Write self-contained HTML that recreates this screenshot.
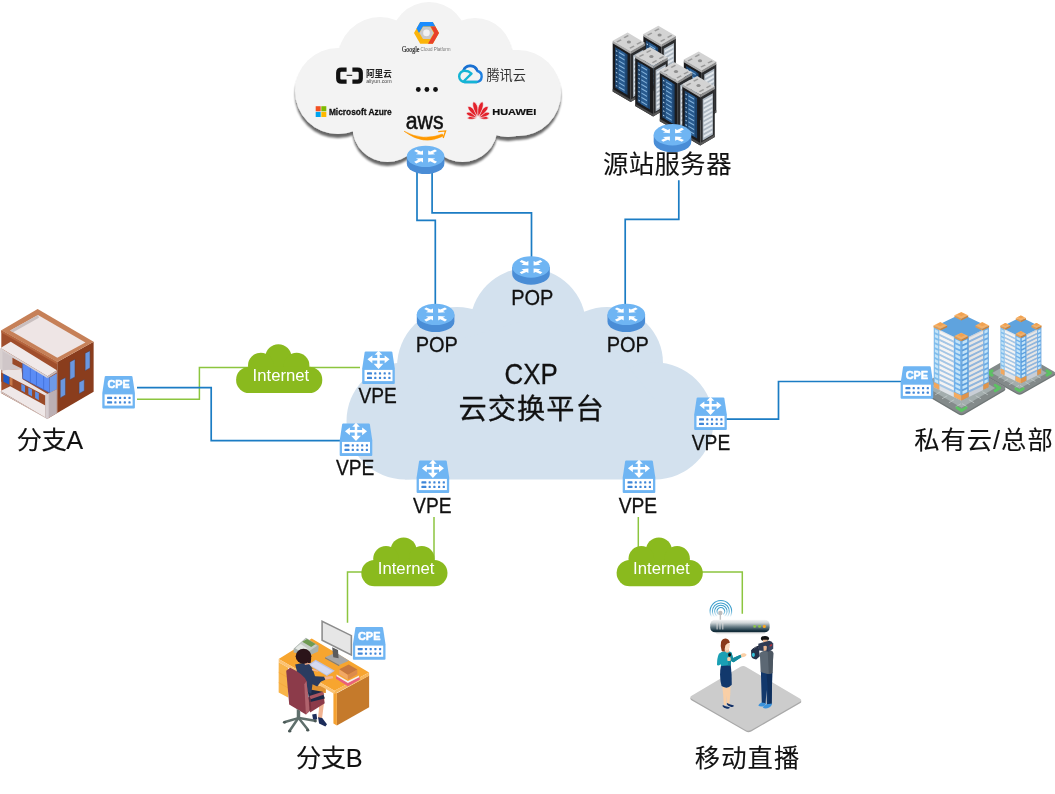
<!DOCTYPE html>
<html lang="zh-CN">
<head>
<meta charset="utf-8">
<title>CXP 云交换平台</title>
<style>
html,body{margin:0;padding:0;background:#fff;}
body{width:1055px;height:794px;overflow:hidden;position:relative;font-family:"Liberation Sans","Noto Sans CJK SC",sans-serif;}
svg{position:absolute;left:0;top:0;display:block;will-change:transform;}
text{font-family:"Liberation Sans","Noto Sans CJK SC",sans-serif;fill:#111;}
.lb{font-size:25.3px;font-weight:400;}
.sm{font-size:22.3px;}
.t text{stroke:#111;stroke-width:0.3px;}
.t text.lb{stroke:#111;stroke-width:0.1px;}
.bl{fill:none;stroke:#1b7cc4;stroke-width:1.7;}
.gl{fill:none;stroke:#8cc53f;stroke-width:1.5;}
</style>
</head>
<body>
<svg width="1055" height="794" viewBox="0 0 1055 794">
<defs>
  <filter id="sh" x="-10%" y="-10%" width="120%" height="130%">
    <feGaussianBlur in="SourceAlpha" stdDeviation="1.1"/>
    <feOffset dx="0.4" dy="3.8" result="o"/>
    <feComponentTransfer><feFuncA type="linear" slope="0.6"/></feComponentTransfer>
    <feMerge><feMergeNode/><feMergeNode in="SourceGraphic"/></feMerge>
  </filter>
  <g id="router">
    <path d="M-18.8,0 v7 a18.8,10.7 0 0 0 37.6,0 v-7 z" fill="#4a8dd6"/>
    <ellipse cx="0" cy="0" rx="18.8" ry="10.7" fill="#6fb5f3"/>
    <g fill="#fff">
      <path id="ra" d="M-2.6,-1.6 L-2.6,-6 L-4.6,-4.9 L-9.4,-7 L-11.4,-5.3 L-7.4,-3.4 L-9.6,-2.2 Z"/>
      <use href="#ra" transform="scale(-1,1)"/>
      <use href="#ra" transform="scale(1,-1)"/>
      <use href="#ra" transform="scale(-1,-1)"/>
    </g>
  </g>
  <g id="box">
    <path d="M2.7,1 Q2.9,0.4 3.7,0.4 H29.3 Q30.1,0.4 30.3,1 L32.8,17.5 V32 Q32.8,33 31.8,33 H1.2 Q0.2,33 0.2,32 V17.5 Z" fill="#6fb5f3"/>
    <rect x="2.5" y="18.9" width="28" height="11.2" fill="#fff"/>
    <g fill="#3f86d8">
      <rect x="5" y="21.3" width="5" height="2.2" rx="0.6"/><rect x="5" y="25.8" width="5" height="2.2" rx="0.6"/>
      <rect x="12.2" y="21.3" width="2.2" height="2.2" rx="0.6"/><rect x="12.2" y="25.8" width="2.2" height="2.2" rx="0.6"/>
      <rect x="16.9" y="21.3" width="2.2" height="2.2" rx="0.6"/><rect x="16.9" y="25.8" width="2.2" height="2.2" rx="0.6"/>
      <rect x="21.6" y="21.3" width="2.2" height="2.2" rx="0.6"/><rect x="21.6" y="25.8" width="2.2" height="2.2" rx="0.6"/>
      <rect x="26.3" y="21.3" width="2.2" height="2.2" rx="0.6"/><rect x="26.3" y="25.8" width="2.2" height="2.2" rx="0.6"/>
    </g>
  </g>
  <g id="vpe">
    <use href="#box"/>
    <path fill="#fff" transform="translate(16.5,9.2) scale(1.06) translate(-16.5,-9.2)" d="M16.5,0.2 l3.6,3.8 h-2.4 v3.2 h4.6 v-2.5 l4.6,3.7 l-4.6,3.7 v-2.5 h-4.6 v3 h3.4 l-4.6,5 l-4.6,-5 h3.4 v-3 h-4.6 v2.5 l-4.6,-3.7 l4.6,-3.7 v2.5 h4.6 v-3.2 h-2.4 z"/>
  </g>
  <g id="cpe">
    <use href="#box"/>
  </g>
  <g id="inet">
    <circle cx="42.3" cy="13.1" r="13.1" fill="#8aba1e"/>
    <circle cx="24.7" cy="21.3" r="12.8" fill="#8aba1e"/>
    <circle cx="60.5" cy="21.3" r="12.8" fill="#8aba1e"/>
    <rect x="0" y="22.5" width="86.2" height="26.4" rx="13.2" fill="#8aba1e"/>
  </g>
</defs>

<!-- CXP cloud -->
<g id="cxpcloud" fill="#d3e1ee">
  <circle cx="405" cy="421" r="58.5"/>
  <circle cx="457" cy="367" r="60"/>
  <circle cx="528" cy="326" r="58"/>
  <circle cx="607" cy="363" r="56"/>
  <circle cx="655" cy="421" r="58.5"/>
  <rect x="405" y="380" width="250" height="99.5"/>
  <polygon points="420,400 457,340 527,320 607,340 655,400"/>
</g>


<!-- top cloud -->
<g filter="url(#sh)">
<g fill="#f3f3f3">
  <circle cx="338" cy="91" r="43"/>
  <circle cx="518" cy="93" r="43"/>
  <circle cx="380" cy="59" r="42"/>
  <circle cx="475" cy="55" r="37"/>
  <circle cx="429" cy="40" r="38"/>
  <circle cx="387.5" cy="127" r="35"/>
  <circle cx="462.5" cy="127" r="35"/>
  <circle cx="508" cy="100" r="37"/>
  <rect x="338" y="50" width="180" height="80"/>
  <rect x="387.5" y="115" width="74.5" height="38"/>
</g>
</g>
<!-- logos -->
<g id="gcp">
  <polygon points="420.2,21.9 432.8,21.9 439,32.9 432.8,43.8 420.2,43.8 414,32.9" fill="#fbb40a"/>
  <polygon points="420.2,21.9 432.8,21.9 435.4,26.5 423,26.5 419,33 416.5,28.4" fill="#1a8cff"/>
  <polygon points="432.8,21.9 439,32.9 432.8,43.8 428,43.8 431,38.5 434.2,32.9 430.6,26.5 435.4,26.5" fill="#e8402a"/>
  <polygon points="423,26.8 430.2,26.8 433.8,32.9 430.2,39.1 423,39.1 419.4,32.9" fill="#c9c9c9"/>
  <circle cx="426.5" cy="32.9" r="3.3" fill="#f1f1f1"/>
  <text x="402" y="51.6" style="font-family:'Liberation Serif',serif;font-size:7.2px;fill:#222;stroke:#222;stroke-width:0.2px" textLength="17.5" lengthAdjust="spacingAndGlyphs">Google</text>
  <text x="420.6" y="51.4" style="font-size:5.6px;fill:#777" textLength="30" lengthAdjust="spacingAndGlyphs">Cloud Platform</text>
</g>
<g id="aliyun">
  <path d="M346.6,69.6 H341.4 Q338.2,69.6 338.2,72.8 V78.4 Q338.2,81.6 341.4,81.6 H346.6 M352.4,69.6 H357.6 Q360.8,69.6 360.8,72.8 V78.4 Q360.8,81.6 357.6,81.6 H352.4" fill="none" stroke="#111" stroke-width="4.2" stroke-linejoin="round"/>
  <rect x="346.6" y="74.8" width="5.6" height="1" fill="#111"/>
  <text x="366" y="77.2" style="font-size:8.7px;font-weight:bold;fill:#222" textLength="25.8" lengthAdjust="spacingAndGlyphs">阿里云</text>
  <text x="366.2" y="82.9" style="font-size:5.6px;fill:#444" textLength="25.6" lengthAdjust="spacingAndGlyphs">aliyun.com</text>
</g>
<g id="tencent">
  <path d="M464.5,82 H476.5 A5.6,5.6 0 0 0 477.5,71 A7.4,7.4 0 0 0 463.4,70.6" fill="none" stroke="#1d7fe0" stroke-width="2.4" stroke-linecap="round"/>
  <path d="M463.4,70.6 A7.4,7.4 0 0 1 476.8,70" fill="none" stroke="#1a6fd0" stroke-width="2.4" stroke-linecap="round"/>
  <path d="M476.5,82 H464.8 A5.6,5.6 0 0 1 464.8,70.8 Q468.5,70.8 471.5,73.6 L464.5,80.5" fill="none" stroke="#14b4d4" stroke-width="2.4" stroke-linecap="round" stroke-linejoin="round"/>
  <text x="486.4" y="80" style="font-size:13.2px;fill:#333">腾讯云</text>
</g>
<g id="dots" fill="#111"><circle cx="418.3" cy="89.5" r="2.4"/><circle cx="426.9" cy="89.5" r="2.4"/><circle cx="435.5" cy="89.5" r="2.4"/></g>
<g id="azure">
  <rect x="315.7" y="106.2" width="5" height="5.1" fill="#f25022"/>
  <rect x="321.3" y="106.2" width="5" height="5.1" fill="#7fba00"/>
  <rect x="315.7" y="111.9" width="5" height="5.1" fill="#00a4ef"/>
  <rect x="321.3" y="111.9" width="5" height="5.1" fill="#ffb900"/>
  <text x="328.9" y="115" style="font-size:9.4px;font-weight:bold;fill:#111;stroke:#111;stroke-width:0.3px" textLength="62.8" lengthAdjust="spacingAndGlyphs">Microsoft Azure</text>
</g>
<g id="aws">
  <text x="405.8" y="128.5" style="font-size:23px;fill:#111;stroke:#111;stroke-width:0.5px" textLength="37.8" lengthAdjust="spacingAndGlyphs">aws</text>
  <path d="M404,131.2 Q423.5,141.8 442.4,134 L443.4,136.1 Q423.5,146.4 404,131.2 Z" fill="#ff9900" stroke="#ff9900" stroke-width="0.5" stroke-linejoin="round"/>
  <polyline points="438.2,131.6 445.6,130.9 443.2,138" fill="none" stroke="#ff9900" stroke-width="1.3" stroke-linejoin="miter"/>
</g>
<g id="huawei">
<g fill="#e3212b" stroke="#f3f3f3" stroke-width="0.55" transform="translate(478,118.2)">
<path d="M0,-1.5 C-1.47,-4.24 -2.42,-8.48 -0.84,-10.60 C2.10,-9.54 1.68,-4.24 0,-1.5 Z" transform="rotate(-86)"/>
<path d="M0,-1.5 C-1.47,-4.24 -2.42,-8.48 -0.84,-10.60 C2.10,-9.54 1.68,-4.24 0,-1.5 Z" transform="scale(-1,1) rotate(-86)"/>
<path d="M0,-1.5 C-1.89,-5.12 -3.10,-10.24 -1.08,-12.80 C2.70,-11.52 2.16,-5.12 0,-1.5 Z" transform="rotate(-62)"/>
<path d="M0,-1.5 C-1.89,-5.12 -3.10,-10.24 -1.08,-12.80 C2.70,-11.52 2.16,-5.12 0,-1.5 Z" transform="scale(-1,1) rotate(-62)"/>
<path d="M0,-1.5 C-2.10,-6.16 -3.45,-12.32 -1.20,-15.40 C3.00,-13.86 2.40,-6.16 0,-1.5 Z" transform="rotate(-37)"/>
<path d="M0,-1.5 C-2.10,-6.16 -3.45,-12.32 -1.20,-15.40 C3.00,-13.86 2.40,-6.16 0,-1.5 Z" transform="scale(-1,1) rotate(-37)"/>
<path d="M0,-1.5 C-2.24,-6.80 -3.68,-13.60 -1.28,-17.00 C3.20,-15.30 2.56,-6.80 0,-1.5 Z" transform="rotate(-12)"/>
<path d="M0,-1.5 C-2.24,-6.80 -3.68,-13.60 -1.28,-17.00 C3.20,-15.30 2.56,-6.80 0,-1.5 Z" transform="scale(-1,1) rotate(-12)"/>
</g>
<text x="492.2" y="115" style="font-size:9.6px;font-weight:bold;fill:#111;stroke:#111;stroke-width:0.2px" textLength="44" lengthAdjust="spacingAndGlyphs">HUAWEI</text>
</g>

<!-- bldA:start -->
<g id="bldA">
<polygon points="1.31,330.28 57.29,361.88 57.29,412.95 47.47,418.68 1.31,393.3" fill="#a04e2c"/>
<polygon points="57.29,361.88 93.63,341.74 93.63,391.67 57.29,412.95" fill="#8a3d1d"/>
<polygon points="37.65,309 93.63,341.74 57.29,361.88 1.31,330.28" fill="#c68058"/>
<polygon points="1.31,330.28 57.29,361.88 57.29,364.17 1.31,332.57" fill="#b5653e"/>
<polygon points="37.98,315.06 85.45,342.56 57.29,357.78 10.15,330.61" fill="#eee5e5"/>
<polygon points="37.98,315.06 10.15,330.61 13.1,332.25 38.96,317.68" fill="#c9bfbf"/>
<polygon points="85.12,353.2 90.03,350.74 90.03,367.93 85.12,370.71" fill="#6a97e0" stroke="#5a3a3a" stroke-width="0.5"/>
<polygon points="69.9,361.88 74.97,359.26 74.97,376.93 69.9,379.72" fill="#6a97e0" stroke="#5a3a3a" stroke-width="0.5"/>
<polygon points="79.06,382.17 84.3,379.55 84.3,390.85 79.06,393.63" fill="#6a97e0" stroke="#5a3a3a" stroke-width="0.5"/>
<polygon points="60.24,380.21 65.48,377.59 65.48,394.94 60.24,397.89" fill="#6a97e0" stroke="#5a3a3a" stroke-width="0.5"/>
<polygon points="0,348.59 22.65,362.18 22.65,368.98 2.27,370.57 0,368.98" fill="#cfc6c8"/>
<polygon points="1.13,372.38 45.31,396.73 45.31,405.23 1.13,381.44" fill="#9a4a28"/>
<polygon points="9.63,376.91 12.46,378.61 12.46,385.97 9.63,384.5" fill="#c87848"/>
<polygon points="3.4,373.51 9.29,376.68 9.29,384.84 3.4,381.67" fill="#1e5ac8"/>
<polygon points="21.29,383.71 25.03,385.74 25.03,392.54 21.29,390.5" fill="#5e8fe6"/>
<polygon points="28.32,387.57 32.06,389.61 32.06,396.4 28.32,394.36" fill="#5e8fe6"/>
<polygon points="35.11,391.31 38.85,393.34 38.85,400.14 35.11,398.1" fill="#5e8fe6"/>
<polygon points="12.46,357.65 22.65,363.32 22.65,368.98 12.46,363.88" fill="#9a4a28"/>
<polygon points="2.27,370.34 21.52,368.98 22.65,379.17 47.57,393.9 47.57,396.73 2.27,372.94" fill="#ebe3e3"/>
<polygon points="22.65,363.32 49.84,377.48 49.84,392.99 22.65,378.61" fill="#5b8cf5" stroke="#3a55a0" stroke-width="0.6"/>
<polyline points="30.36,367.32 30.36,382.5" fill="none" stroke="#3f6fd8" stroke-width="0.8"/>
<polyline points="36.47,370.5 36.47,385.68" fill="none" stroke="#3f6fd8" stroke-width="0.8"/>
<polyline points="43.61,374.21 43.61,389.39" fill="none" stroke="#3f6fd8" stroke-width="0.8"/>
<polygon points="49.84,377.48 56.86,373.28 56.86,389.14 49.84,392.99" fill="#6f9ae8"/>
<polygon points="0.57,348.03 10.76,341.8 56.86,370.34 47.57,376.34" fill="#f0e9e9"/>
<polygon points="0.57,348.03 47.57,376.34 47.57,378.27 0.57,349.95" fill="#d8d0d0"/>
<polygon points="47.57,376.34 56.86,370.34 56.86,372.38 47.57,378.27" fill="#c4babc"/>
<polygon points="0,348.37 2.49,349.84 2.49,370.34 0,368.98" fill="#d9d1d1"/>
<polygon points="0.57,391.07 10.19,386.2 45.31,405.45 45.31,417.46" fill="#efe8e8"/>
<polygon points="0.57,391.07 45.31,417.46 47.01,419.05 0.57,392.54" fill="#cfc6c6"/>
<polygon points="45.31,395.03 56.86,389.14 56.86,413.16 47.01,419.05 45.31,417.46" fill="#bcb0b4"/>
<polygon points="45.31,395.03 48.71,393.33 48.71,418.03 47.01,419.05 45.31,417.46" fill="#d6cdd0"/>
</g>
<!-- bldA:end -->
<!-- racks:start -->
<defs><g id="rack">
<polygon points="0,10 18,20.8 18,69.4 0,59" fill="#1b1b1d"/>
<polygon points="18,20.8 32.5,12.6 32.5,61 18,69.4" fill="#2b2c2e"/>
<polygon points="0,56.6 18,67 18,69.4 0,59" fill="#4a4a4a"/>
<polygon points="18,67 32.5,58.6 32.5,61 18,69.4" fill="#5a5a5a"/>
<polygon points="2.4,14.6 14.8,22 14.8,62.4 2.4,55" fill="#1d446e"/>
<polygon points="5.6,16.5 12.6,20.7 12.6,61 5.6,56.8" fill="#285a8e"/>
<polygon points="6.2,19.2 11.8,22.5 11.8,23.7 6.2,20.4" fill="#86b4dc"/>
<polygon points="3.2,17.6 4.6,18.4 4.6,19.5 3.2,18.7" fill="#b8d2e8"/>
<polygon points="6.2,23.55 11.8,26.85 11.8,28.05 6.2,24.75" fill="#86b4dc"/>
<polygon points="3.2,21.95 4.6,22.75 4.6,23.85 3.2,23.05" fill="#b8d2e8"/>
<polygon points="6.2,27.9 11.8,31.2 11.8,32.4 6.2,29.1" fill="#86b4dc"/>
<polygon points="3.2,26.3 4.6,27.1 4.6,28.2 3.2,27.4" fill="#b8d2e8"/>
<polygon points="6.2,32.25 11.8,35.55 11.8,36.75 6.2,33.45" fill="#86b4dc"/>
<polygon points="3.2,30.65 4.6,31.45 4.6,32.55 3.2,31.75" fill="#b8d2e8"/>
<polygon points="6.2,36.6 11.8,39.9 11.8,41.1 6.2,37.8" fill="#86b4dc"/>
<polygon points="3.2,35 4.6,35.8 4.6,36.9 3.2,36.1" fill="#b8d2e8"/>
<polygon points="6.2,40.95 11.8,44.25 11.8,45.45 6.2,42.15" fill="#86b4dc"/>
<polygon points="3.2,39.35 4.6,40.15 4.6,41.25 3.2,40.45" fill="#b8d2e8"/>
<polygon points="6.2,45.3 11.8,48.6 11.8,49.8 6.2,46.5" fill="#86b4dc"/>
<polygon points="3.2,43.7 4.6,44.5 4.6,45.6 3.2,44.8" fill="#b8d2e8"/>
<polygon points="6.2,49.65 11.8,52.95 11.8,54.15 6.2,50.85" fill="#86b4dc"/>
<polygon points="3.2,48.05 4.6,48.85 4.6,49.95 3.2,49.15" fill="#b8d2e8"/>
<polygon points="6.2,54 11.8,57.3 11.8,58.5 6.2,55.2" fill="#86b4dc"/>
<polygon points="3.2,52.4 4.6,53.2 4.6,54.3 3.2,53.5" fill="#b8d2e8"/>
<polygon points="20.4,23 30.6,17.2 30.6,58.4 20.4,64.4" fill="#aeb8c2"/>
<polygon points="21.4,24.6 30,19.7 30,22 21.4,26.9" fill="#e2e7ec"/>
<polygon points="21.4,28.95 30,24.05 30,26.35 21.4,31.25" fill="#e2e7ec"/>
<polygon points="21.4,33.3 30,28.4 30,30.7 21.4,35.6" fill="#e2e7ec"/>
<polygon points="21.4,37.65 30,32.75 30,35.05 21.4,39.95" fill="#e2e7ec"/>
<polygon points="21.4,42 30,37.1 30,39.4 21.4,44.3" fill="#e2e7ec"/>
<polygon points="21.4,46.35 30,41.45 30,43.75 21.4,48.65" fill="#e2e7ec"/>
<polygon points="21.4,50.7 30,45.8 30,48.1 21.4,53" fill="#e2e7ec"/>
<polygon points="21.4,55.05 30,50.15 30,52.45 21.4,57.35" fill="#e2e7ec"/>
<polygon points="21.4,59.4 30,54.5 30,56.8 21.4,61.7" fill="#e2e7ec"/>
<polygon points="0,8.2 14.9,0 32.5,10.4 18,18.8" fill="#d3d3d3"/>
<polygon points="0,8.2 18,18.8 18,21.4 0,10.8" fill="#a9a9a9"/>
<polygon points="18,18.8 32.5,10.4 32.5,13 18,21.4" fill="#8f8f8f"/>
<ellipse cx="16.2" cy="9.4" rx="2.1" ry="1.5" fill="#8e8e8e"/>
<polygon points="3.6,9 7.8,6.8 9,7.8 4.8,10" fill="#9a9a9a"/>
<polygon points="10.8,4.8 15,2.6 16.2,3.6 12,5.8" fill="#9a9a9a"/>
<polygon points="16.6,15.2 20.8,13 22,14 17.8,16.2" fill="#9a9a9a"/>
<polygon points="23.6,11.2 27.8,9 29,10 24.8,12.2" fill="#9a9a9a"/>
</g></defs>
<g id="racks">
<use href="#rack" x="643.4" y="25.7"/>
<use href="#rack" x="612.7" y="32.5"/>
<use href="#rack" x="683.8" y="51.4"/>
<use href="#rack" x="635.2" y="47.1"/>
<use href="#rack" x="659.8" y="62.2"/>
<use href="#rack" x="682.3" y="76"/>
</g>
<use href="#router" x="672.5" y="134.8"/>
<!-- racks:end -->
<!-- towers:start -->
<g id="towers">
<path d="M1016.91,354.68 Q1019.50,353.20 1022.09,354.68 L1053.91,372.92 Q1056.50,374.40 1053.91,375.88 L1022.09,394.12 Q1019.50,395.60 1016.91,394.12 L985.09,375.88 Q982.50,374.40 985.09,372.92 Z" fill="#6f7676"/>
<path d="M1016.91,353.28 Q1019.50,351.80 1022.09,353.28 L1053.91,371.52 Q1056.50,373.00 1053.91,374.48 L1022.09,392.72 Q1019.50,394.20 1016.91,392.72 L985.09,374.48 Q982.50,373.00 985.09,371.52 Z" fill="#838a8a"/>
<polygon points="992.12,373 1019.5,357.31 1046.88,373 1019.5,388.69" fill="#a3adad"/>
<line x1="1024.24" y1="387.83" x2="1019.91" y2="385.35" stroke="#c9d0d0" stroke-width="0.7"/>
<line x1="1014.76" y1="387.83" x2="1019.09" y2="385.35" stroke="#c9d0d0" stroke-width="0.7"/>
<line x1="1029.79" y1="384.65" x2="1025.46" y2="382.17" stroke="#c9d0d0" stroke-width="0.7"/>
<line x1="1009.21" y1="384.65" x2="1013.54" y2="382.17" stroke="#c9d0d0" stroke-width="0.7"/>
<line x1="1035.34" y1="381.47" x2="1031.01" y2="378.99" stroke="#c9d0d0" stroke-width="0.7"/>
<line x1="1003.66" y1="381.47" x2="1007.99" y2="378.99" stroke="#c9d0d0" stroke-width="0.7"/>
<line x1="1040.89" y1="378.29" x2="1036.56" y2="375.81" stroke="#c9d0d0" stroke-width="0.7"/>
<line x1="998.11" y1="378.29" x2="1002.44" y2="375.81" stroke="#c9d0d0" stroke-width="0.7"/>
<polyline points="1015.80,388.69 1019.50,390.81 1023.20,388.69" fill="none" stroke="#5cc263" stroke-width="2.9" stroke-linejoin="round" stroke-linecap="round"/>
<polyline points="1046.88,375.12 1050.58,373.00 1046.88,370.88" fill="none" stroke="#5cc263" stroke-width="2.9" stroke-linejoin="round" stroke-linecap="round"/>
<polyline points="992.12,375.12 988.42,373.00 992.12,370.88" fill="none" stroke="#5cc263" stroke-width="2.9" stroke-linejoin="round" stroke-linecap="round"/>
<polygon points="1000.5,327.2 1020.9,337.3 1020.9,383.6 1000.5,373.5" fill="#dfe3e8"/>
<polygon points="1020.9,337.3 1041.3,327.2 1041.3,373.5 1020.9,383.6" fill="#c9ced6"/>
<polygon points="1004.58,330.42 1015.39,335.77 1015.39,338.02 1004.58,332.66" fill="#f4f4f4"/>
<polygon points="1004.58,332.66 1015.39,338.02 1015.39,339.85 1004.58,334.5" fill="#a4c6e6"/>
<polygon points="1026.41,335.77 1037.22,330.42 1037.22,332.66 1026.41,338.02" fill="#e6e6e6"/>
<polygon points="1026.41,338.02 1037.22,332.66 1037.22,334.5 1026.41,339.85" fill="#8fb6de"/>
<polygon points="1004.58,334.5 1015.39,339.85 1015.39,342.1 1004.58,336.74" fill="#f4f4f4"/>
<polygon points="1004.58,336.74 1015.39,342.1 1015.39,343.93 1004.58,338.58" fill="#a4c6e6"/>
<polygon points="1026.41,339.85 1037.22,334.5 1037.22,336.74 1026.41,342.1" fill="#e6e6e6"/>
<polygon points="1026.41,342.1 1037.22,336.74 1037.22,338.58 1026.41,343.93" fill="#8fb6de"/>
<polygon points="1004.58,338.58 1015.39,343.93 1015.39,346.18 1004.58,340.82" fill="#f4f4f4"/>
<polygon points="1004.58,340.82 1015.39,346.18 1015.39,348.01 1004.58,342.66" fill="#a4c6e6"/>
<polygon points="1026.41,343.93 1037.22,338.58 1037.22,340.82 1026.41,346.18" fill="#e6e6e6"/>
<polygon points="1026.41,346.18 1037.22,340.82 1037.22,342.66 1026.41,348.01" fill="#8fb6de"/>
<polygon points="1004.58,342.66 1015.39,348.01 1015.39,350.26 1004.58,344.9" fill="#f4f4f4"/>
<polygon points="1004.58,344.9 1015.39,350.26 1015.39,352.09 1004.58,346.74" fill="#a4c6e6"/>
<polygon points="1026.41,348.01 1037.22,342.66 1037.22,344.9 1026.41,350.26" fill="#e6e6e6"/>
<polygon points="1026.41,350.26 1037.22,344.9 1037.22,346.74 1026.41,352.09" fill="#8fb6de"/>
<polygon points="1004.58,346.74 1015.39,352.09 1015.39,354.34 1004.58,348.98" fill="#f4f4f4"/>
<polygon points="1004.58,348.98 1015.39,354.34 1015.39,356.17 1004.58,350.82" fill="#a4c6e6"/>
<polygon points="1026.41,352.09 1037.22,346.74 1037.22,348.98 1026.41,354.34" fill="#e6e6e6"/>
<polygon points="1026.41,354.34 1037.22,348.98 1037.22,350.82 1026.41,356.17" fill="#8fb6de"/>
<polygon points="1004.58,350.82 1015.39,356.17 1015.39,358.42 1004.58,353.06" fill="#f4f4f4"/>
<polygon points="1004.58,353.06 1015.39,358.42 1015.39,360.25 1004.58,354.9" fill="#a4c6e6"/>
<polygon points="1026.41,356.17 1037.22,350.82 1037.22,353.06 1026.41,358.42" fill="#e6e6e6"/>
<polygon points="1026.41,358.42 1037.22,353.06 1037.22,354.9 1026.41,360.25" fill="#8fb6de"/>
<polygon points="1004.58,354.9 1015.39,360.25 1015.39,362.5 1004.58,357.14" fill="#f4f4f4"/>
<polygon points="1004.58,357.14 1015.39,362.5 1015.39,364.33 1004.58,358.98" fill="#a4c6e6"/>
<polygon points="1026.41,360.25 1037.22,354.9 1037.22,357.14 1026.41,362.5" fill="#e6e6e6"/>
<polygon points="1026.41,362.5 1037.22,357.14 1037.22,358.98 1026.41,364.33" fill="#8fb6de"/>
<polygon points="1004.58,358.98 1015.39,364.33 1015.39,366.58 1004.58,361.22" fill="#f4f4f4"/>
<polygon points="1004.58,361.22 1015.39,366.58 1015.39,368.41 1004.58,363.06" fill="#a4c6e6"/>
<polygon points="1026.41,364.33 1037.22,358.98 1037.22,361.22 1026.41,366.58" fill="#e6e6e6"/>
<polygon points="1026.41,366.58 1037.22,361.22 1037.22,363.06 1026.41,368.41" fill="#8fb6de"/>
<polygon points="1004.58,363.06 1015.39,368.41 1015.39,370.66 1004.58,365.3" fill="#f4f4f4"/>
<polygon points="1004.58,365.3 1015.39,370.66 1015.39,372.49 1004.58,367.14" fill="#a4c6e6"/>
<polygon points="1026.41,368.41 1037.22,363.06 1037.22,365.3 1026.41,370.66" fill="#e6e6e6"/>
<polygon points="1026.41,370.66 1037.22,365.3 1037.22,367.14 1026.41,372.49" fill="#8fb6de"/>
<polygon points="1004.58,367.14 1015.39,372.49 1015.39,374.74 1004.58,369.38" fill="#f4f4f4"/>
<polygon points="1004.58,369.38 1015.39,374.74 1015.39,376.57 1004.58,371.22" fill="#a4c6e6"/>
<polygon points="1026.41,372.49 1037.22,367.14 1037.22,369.38 1026.41,374.74" fill="#e6e6e6"/>
<polygon points="1026.41,374.74 1037.22,369.38 1037.22,371.22 1026.41,376.57" fill="#8fb6de"/>
<polygon points="1000.5,327.2 1004.58,329.22 1004.58,375.52 1000.5,373.5" fill="#7fbcec"/>
<polygon points="1015.39,334.57 1020.9,337.3 1020.9,383.6 1015.39,380.87" fill="#6fb0ea"/>
<polygon points="1020.9,337.3 1026.41,334.57 1026.41,380.87 1020.9,383.6" fill="#5b9fde"/>
<polygon points="1037.22,329.22 1041.3,327.2 1041.3,373.5 1037.22,375.52" fill="#6aaae4"/>
<polygon points="1001.32,329.2 1003.76,330.42 1003.76,332.86 1001.32,331.65" fill="#c4e4f8"/>
<polygon points="1016.49,336.72 1020.07,338.49 1020.07,340.94 1016.49,339.17" fill="#c4e4f8"/>
<polygon points="1021.73,338.49 1025.31,336.72 1025.31,339.17 1021.73,340.94" fill="#c4e4f8"/>
<polygon points="1038.04,330.42 1040.48,329.2 1040.48,331.65 1038.04,332.86" fill="#c4e4f8"/>
<polygon points="1001.32,333.28 1003.76,334.5 1003.76,336.94 1001.32,335.73" fill="#c4e4f8"/>
<polygon points="1016.49,340.8 1020.07,342.57 1020.07,345.02 1016.49,343.25" fill="#c4e4f8"/>
<polygon points="1021.73,342.57 1025.31,340.8 1025.31,343.25 1021.73,345.02" fill="#c4e4f8"/>
<polygon points="1038.04,334.5 1040.48,333.28 1040.48,335.73 1038.04,336.94" fill="#c4e4f8"/>
<polygon points="1001.32,337.36 1003.76,338.58 1003.76,341.02 1001.32,339.81" fill="#c4e4f8"/>
<polygon points="1016.49,344.88 1020.07,346.65 1020.07,349.1 1016.49,347.33" fill="#c4e4f8"/>
<polygon points="1021.73,346.65 1025.31,344.88 1025.31,347.33 1021.73,349.1" fill="#c4e4f8"/>
<polygon points="1038.04,338.58 1040.48,337.36 1040.48,339.81 1038.04,341.02" fill="#c4e4f8"/>
<polygon points="1001.32,341.44 1003.76,342.66 1003.76,345.1 1001.32,343.89" fill="#c4e4f8"/>
<polygon points="1016.49,348.96 1020.07,350.73 1020.07,353.18 1016.49,351.41" fill="#c4e4f8"/>
<polygon points="1021.73,350.73 1025.31,348.96 1025.31,351.41 1021.73,353.18" fill="#c4e4f8"/>
<polygon points="1038.04,342.66 1040.48,341.44 1040.48,343.89 1038.04,345.1" fill="#c4e4f8"/>
<polygon points="1001.32,345.52 1003.76,346.74 1003.76,349.18 1001.32,347.97" fill="#c4e4f8"/>
<polygon points="1016.49,353.04 1020.07,354.81 1020.07,357.26 1016.49,355.49" fill="#c4e4f8"/>
<polygon points="1021.73,354.81 1025.31,353.04 1025.31,355.49 1021.73,357.26" fill="#c4e4f8"/>
<polygon points="1038.04,346.74 1040.48,345.52 1040.48,347.97 1038.04,349.18" fill="#c4e4f8"/>
<polygon points="1001.32,349.6 1003.76,350.82 1003.76,353.26 1001.32,352.05" fill="#c4e4f8"/>
<polygon points="1016.49,357.12 1020.07,358.89 1020.07,361.34 1016.49,359.57" fill="#c4e4f8"/>
<polygon points="1021.73,358.89 1025.31,357.12 1025.31,359.57 1021.73,361.34" fill="#c4e4f8"/>
<polygon points="1038.04,350.82 1040.48,349.6 1040.48,352.05 1038.04,353.26" fill="#c4e4f8"/>
<polygon points="1001.32,353.68 1003.76,354.9 1003.76,357.34 1001.32,356.13" fill="#c4e4f8"/>
<polygon points="1016.49,361.2 1020.07,362.97 1020.07,365.42 1016.49,363.65" fill="#c4e4f8"/>
<polygon points="1021.73,362.97 1025.31,361.2 1025.31,363.65 1021.73,365.42" fill="#c4e4f8"/>
<polygon points="1038.04,354.9 1040.48,353.68 1040.48,356.13 1038.04,357.34" fill="#c4e4f8"/>
<polygon points="1001.32,357.76 1003.76,358.98 1003.76,361.42 1001.32,360.21" fill="#c4e4f8"/>
<polygon points="1016.49,365.28 1020.07,367.05 1020.07,369.5 1016.49,367.73" fill="#c4e4f8"/>
<polygon points="1021.73,367.05 1025.31,365.28 1025.31,367.73 1021.73,369.5" fill="#c4e4f8"/>
<polygon points="1038.04,358.98 1040.48,357.76 1040.48,360.21 1038.04,361.42" fill="#c4e4f8"/>
<polygon points="1001.32,361.84 1003.76,363.06 1003.76,365.5 1001.32,364.29" fill="#c4e4f8"/>
<polygon points="1016.49,369.36 1020.07,371.13 1020.07,373.58 1016.49,371.81" fill="#c4e4f8"/>
<polygon points="1021.73,371.13 1025.31,369.36 1025.31,371.81 1021.73,373.58" fill="#c4e4f8"/>
<polygon points="1038.04,363.06 1040.48,361.84 1040.48,364.29 1038.04,365.5" fill="#c4e4f8"/>
<polygon points="1001.32,365.92 1003.76,367.14 1003.76,369.58 1001.32,368.37" fill="#c4e4f8"/>
<polygon points="1016.49,373.44 1020.07,375.21 1020.07,377.66 1016.49,375.89" fill="#c4e4f8"/>
<polygon points="1021.73,375.21 1025.31,373.44 1025.31,375.89 1021.73,377.66" fill="#c4e4f8"/>
<polygon points="1038.04,367.14 1040.48,365.92 1040.48,368.37 1038.04,369.58" fill="#c4e4f8"/>
<polygon points="1000.5,368.3 1004.58,370.32 1004.58,375.52 1000.5,373.5" fill="#f2a75c"/>
<polygon points="1015.39,375.67 1020.9,378.4 1020.9,383.6 1015.39,380.87" fill="#f4ac62"/>
<polygon points="1020.9,378.4 1026.41,375.67 1026.41,380.87 1020.9,383.6" fill="#e0944a"/>
<polygon points="1037.22,370.32 1041.3,368.3 1041.3,373.5 1037.22,375.52" fill="#e0944a"/>
<polygon points="1000.5,327.2 1020.9,317.1 1041.3,327.2 1020.9,337.3" fill="#5fa3de"/>
<polygon points="1015.8,317.97 1020.9,320.5 1020.9,322.3 1015.8,319.77" fill="#e59a4c"/>
<polygon points="1020.9,320.5 1026,317.97 1026,319.77 1020.9,322.3" fill="#cc8238"/>
<polygon points="1015.8,317.97 1020.9,315.45 1026,317.97 1020.9,320.5" fill="#f6b066"/>
<polygon points="1018.1,316.97 1020.9,315.58 1023.7,316.97 1020.9,318.36" fill="#f0a252"/>
<polygon points="1000.25,325.5 1005.35,328.03 1005.35,329.83 1000.25,327.3" fill="#e59a4c"/>
<polygon points="1005.35,328.03 1010.45,325.5 1010.45,327.3 1005.35,329.83" fill="#cc8238"/>
<polygon points="1000.25,325.5 1005.35,322.98 1010.45,325.5 1005.35,328.03" fill="#f6b066"/>
<polygon points="1002.54,324.5 1005.35,323.11 1008.15,324.5 1005.35,325.89" fill="#f0a252"/>
<polygon points="1031.36,325.5 1036.45,328.03 1036.45,329.83 1031.36,327.3" fill="#e59a4c"/>
<polygon points="1036.45,328.03 1041.55,325.5 1041.55,327.3 1036.45,329.83" fill="#cc8238"/>
<polygon points="1031.36,325.5 1036.45,322.98 1041.55,325.5 1036.45,328.03" fill="#f6b066"/>
<polygon points="1033.65,324.5 1036.45,323.11 1039.26,324.5 1036.45,325.89" fill="#f0a252"/>
<polygon points="1015.8,333.63 1020.9,336.15 1020.9,337.95 1015.8,335.43" fill="#e59a4c"/>
<polygon points="1020.9,336.15 1026,333.63 1026,335.43 1020.9,337.95" fill="#cc8238"/>
<polygon points="1015.8,333.63 1020.9,331.1 1026,333.63 1020.9,336.15" fill="#f6b066"/>
<polygon points="1018.1,332.63 1020.9,331.24 1023.7,332.63 1020.9,334.02" fill="#f0a252"/>
<path d="M958.32,364.57 Q961.50,362.70 964.68,364.57 L1003.82,387.53 Q1007.00,389.40 1003.82,391.27 L964.68,414.23 Q961.50,416.10 958.32,414.23 L919.18,391.27 Q916.00,389.40 919.18,387.53 Z" fill="#6f7676"/>
<path d="M958.32,363.17 Q961.50,361.30 964.68,363.17 L1003.82,386.13 Q1007.00,388.00 1003.82,389.87 L964.68,412.83 Q961.50,414.70 958.32,412.83 L919.18,389.87 Q916.00,388.00 919.18,386.13 Z" fill="#838a8a"/>
<polygon points="927.83,388 961.5,368.24 995.17,388 961.5,407.76" fill="#a3adad"/>
<line x1="967.32" y1="406.84" x2="962.00" y2="403.71" stroke="#c9d0d0" stroke-width="0.7"/>
<line x1="955.68" y1="406.84" x2="961.00" y2="403.71" stroke="#c9d0d0" stroke-width="0.7"/>
<line x1="974.15" y1="402.83" x2="968.83" y2="399.71" stroke="#c9d0d0" stroke-width="0.7"/>
<line x1="948.85" y1="402.83" x2="954.17" y2="399.71" stroke="#c9d0d0" stroke-width="0.7"/>
<line x1="980.97" y1="398.83" x2="975.65" y2="395.70" stroke="#c9d0d0" stroke-width="0.7"/>
<line x1="942.03" y1="398.83" x2="947.35" y2="395.70" stroke="#c9d0d0" stroke-width="0.7"/>
<line x1="987.80" y1="394.82" x2="982.48" y2="391.70" stroke="#c9d0d0" stroke-width="0.7"/>
<line x1="935.20" y1="394.82" x2="940.52" y2="391.70" stroke="#c9d0d0" stroke-width="0.7"/>
<polyline points="956.95,407.76 961.50,410.43 966.05,407.76" fill="none" stroke="#5cc263" stroke-width="2.9" stroke-linejoin="round" stroke-linecap="round"/>
<polyline points="995.17,390.67 999.72,388.00 995.17,385.33" fill="none" stroke="#5cc263" stroke-width="2.9" stroke-linejoin="round" stroke-linecap="round"/>
<polyline points="927.83,390.67 923.28,388.00 927.83,385.33" fill="none" stroke="#5cc263" stroke-width="2.9" stroke-linejoin="round" stroke-linecap="round"/>
<polygon points="933.8,327.1 961.3,340.5 961.3,400.7 933.8,387.3" fill="#dfe3e8"/>
<polygon points="961.3,340.5 988.8,327.1 988.8,387.3 961.3,400.7" fill="#c9ced6"/>
<polygon points="939.3,330.98 953.88,338.08 953.88,340.82 939.3,333.71" fill="#f4f4f4"/>
<polygon points="939.3,333.71 953.88,340.82 953.88,343.05 939.3,335.95" fill="#a4c6e6"/>
<polygon points="968.72,338.08 983.3,330.98 983.3,333.71 968.72,340.82" fill="#e6e6e6"/>
<polygon points="968.72,340.82 983.3,333.71 983.3,335.95 968.72,343.05" fill="#8fb6de"/>
<polygon points="939.3,335.95 953.88,343.05 953.88,345.79 939.3,338.69" fill="#f4f4f4"/>
<polygon points="939.3,338.69 953.88,345.79 953.88,348.03 939.3,340.93" fill="#a4c6e6"/>
<polygon points="968.72,343.05 983.3,335.95 983.3,338.69 968.72,345.79" fill="#e6e6e6"/>
<polygon points="968.72,345.79 983.3,338.69 983.3,340.93 968.72,348.03" fill="#8fb6de"/>
<polygon points="939.3,340.93 953.88,348.03 953.88,350.76 939.3,343.66" fill="#f4f4f4"/>
<polygon points="939.3,343.66 953.88,350.76 953.88,353 939.3,345.9" fill="#a4c6e6"/>
<polygon points="968.72,348.03 983.3,340.93 983.3,343.66 968.72,350.76" fill="#e6e6e6"/>
<polygon points="968.72,350.76 983.3,343.66 983.3,345.9 968.72,353" fill="#8fb6de"/>
<polygon points="939.3,345.9 953.88,353 953.88,355.74 939.3,348.63" fill="#f4f4f4"/>
<polygon points="939.3,348.63 953.88,355.74 953.88,357.97 939.3,350.87" fill="#a4c6e6"/>
<polygon points="968.72,353 983.3,345.9 983.3,348.63 968.72,355.74" fill="#e6e6e6"/>
<polygon points="968.72,355.74 983.3,348.63 983.3,350.87 968.72,357.97" fill="#8fb6de"/>
<polygon points="939.3,350.87 953.88,357.97 953.88,360.71 939.3,353.61" fill="#f4f4f4"/>
<polygon points="939.3,353.61 953.88,360.71 953.88,362.95 939.3,355.84" fill="#a4c6e6"/>
<polygon points="968.72,357.97 983.3,350.87 983.3,353.61 968.72,360.71" fill="#e6e6e6"/>
<polygon points="968.72,360.71 983.3,353.61 983.3,355.84 968.72,362.95" fill="#8fb6de"/>
<polygon points="939.3,355.84 953.88,362.95 953.88,365.68 939.3,358.58" fill="#f4f4f4"/>
<polygon points="939.3,358.58 953.88,365.68 953.88,367.92 939.3,360.82" fill="#a4c6e6"/>
<polygon points="968.72,362.95 983.3,355.84 983.3,358.58 968.72,365.68" fill="#e6e6e6"/>
<polygon points="968.72,365.68 983.3,358.58 983.3,360.82 968.72,367.92" fill="#8fb6de"/>
<polygon points="939.3,360.82 953.88,367.92 953.88,370.65 939.3,363.55" fill="#f4f4f4"/>
<polygon points="939.3,363.55 953.88,370.65 953.88,372.89 939.3,365.79" fill="#a4c6e6"/>
<polygon points="968.72,367.92 983.3,360.82 983.3,363.55 968.72,370.65" fill="#e6e6e6"/>
<polygon points="968.72,370.65 983.3,363.55 983.3,365.79 968.72,372.89" fill="#8fb6de"/>
<polygon points="939.3,365.79 953.88,372.89 953.88,375.63 939.3,368.52" fill="#f4f4f4"/>
<polygon points="939.3,368.52 953.88,375.63 953.88,377.86 939.3,370.76" fill="#a4c6e6"/>
<polygon points="968.72,372.89 983.3,365.79 983.3,368.52 968.72,375.63" fill="#e6e6e6"/>
<polygon points="968.72,375.63 983.3,368.52 983.3,370.76 968.72,377.86" fill="#8fb6de"/>
<polygon points="939.3,370.76 953.88,377.86 953.88,380.6 939.3,373.5" fill="#f4f4f4"/>
<polygon points="939.3,373.5 953.88,380.6 953.88,382.84 939.3,375.73" fill="#a4c6e6"/>
<polygon points="968.72,377.86 983.3,370.76 983.3,373.5 968.72,380.6" fill="#e6e6e6"/>
<polygon points="968.72,380.6 983.3,373.5 983.3,375.73 968.72,382.84" fill="#8fb6de"/>
<polygon points="939.3,375.73 953.88,382.84 953.88,385.57 939.3,378.47" fill="#f4f4f4"/>
<polygon points="939.3,378.47 953.88,385.57 953.88,387.81 939.3,380.71" fill="#a4c6e6"/>
<polygon points="968.72,382.84 983.3,375.73 983.3,378.47 968.72,385.57" fill="#e6e6e6"/>
<polygon points="968.72,385.57 983.3,378.47 983.3,380.71 968.72,387.81" fill="#8fb6de"/>
<polygon points="939.3,380.71 953.88,387.81 953.88,390.54 939.3,383.44" fill="#f4f4f4"/>
<polygon points="939.3,383.44 953.88,390.54 953.88,392.78 939.3,385.68" fill="#a4c6e6"/>
<polygon points="968.72,387.81 983.3,380.71 983.3,383.44 968.72,390.54" fill="#e6e6e6"/>
<polygon points="968.72,390.54 983.3,383.44 983.3,385.68 968.72,392.78" fill="#8fb6de"/>
<polygon points="933.8,327.1 939.3,329.78 939.3,389.98 933.8,387.3" fill="#7fbcec"/>
<polygon points="953.88,336.88 961.3,340.5 961.3,400.7 953.88,397.08" fill="#6fb0ea"/>
<polygon points="961.3,340.5 968.72,336.88 968.72,397.08 961.3,400.7" fill="#5b9fde"/>
<polygon points="983.3,329.78 988.8,327.1 988.8,387.3 983.3,389.98" fill="#6aaae4"/>
<polygon points="934.9,329.24 938.2,330.84 938.2,333.83 934.9,332.22" fill="#c4e4f8"/>
<polygon points="955.36,339.21 960.19,341.56 960.19,344.54 955.36,342.19" fill="#c4e4f8"/>
<polygon points="962.41,341.56 967.24,339.21 967.24,342.19 962.41,344.54" fill="#c4e4f8"/>
<polygon points="984.4,330.84 987.7,329.24 987.7,332.22 984.4,333.83" fill="#c4e4f8"/>
<polygon points="934.9,334.21 938.2,335.82 938.2,338.8 934.9,337.19" fill="#c4e4f8"/>
<polygon points="955.36,344.18 960.19,346.53 960.19,349.51 955.36,347.16" fill="#c4e4f8"/>
<polygon points="962.41,346.53 967.24,344.18 967.24,347.16 962.41,349.51" fill="#c4e4f8"/>
<polygon points="984.4,335.82 987.7,334.21 987.7,337.19 984.4,338.8" fill="#c4e4f8"/>
<polygon points="934.9,339.18 938.2,340.79 938.2,343.77 934.9,342.17" fill="#c4e4f8"/>
<polygon points="955.36,349.15 960.19,351.5 960.19,354.49 955.36,352.13" fill="#c4e4f8"/>
<polygon points="962.41,351.5 967.24,349.15 967.24,352.13 962.41,354.49" fill="#c4e4f8"/>
<polygon points="984.4,340.79 987.7,339.18 987.7,342.17 984.4,343.77" fill="#c4e4f8"/>
<polygon points="934.9,344.15 938.2,345.76 938.2,348.75 934.9,347.14" fill="#c4e4f8"/>
<polygon points="955.36,354.12 960.19,356.48 960.19,359.46 955.36,357.11" fill="#c4e4f8"/>
<polygon points="962.41,356.48 967.24,354.12 967.24,357.11 962.41,359.46" fill="#c4e4f8"/>
<polygon points="984.4,345.76 987.7,344.15 987.7,347.14 984.4,348.75" fill="#c4e4f8"/>
<polygon points="934.9,349.13 938.2,350.73 938.2,353.72 934.9,352.11" fill="#c4e4f8"/>
<polygon points="955.36,359.1 960.19,361.45 960.19,364.43 955.36,362.08" fill="#c4e4f8"/>
<polygon points="962.41,361.45 967.24,359.1 967.24,362.08 962.41,364.43" fill="#c4e4f8"/>
<polygon points="984.4,350.73 987.7,349.13 987.7,352.11 984.4,353.72" fill="#c4e4f8"/>
<polygon points="934.9,354.1 938.2,355.71 938.2,358.69 934.9,357.08" fill="#c4e4f8"/>
<polygon points="955.36,364.07 960.19,366.42 960.19,369.4 955.36,367.05" fill="#c4e4f8"/>
<polygon points="962.41,366.42 967.24,364.07 967.24,367.05 962.41,369.4" fill="#c4e4f8"/>
<polygon points="984.4,355.71 987.7,354.1 987.7,357.08 984.4,358.69" fill="#c4e4f8"/>
<polygon points="934.9,359.07 938.2,360.68 938.2,363.66 934.9,362.06" fill="#c4e4f8"/>
<polygon points="955.36,369.04 960.19,371.39 960.19,374.38 955.36,372.03" fill="#c4e4f8"/>
<polygon points="962.41,371.39 967.24,369.04 967.24,372.03 962.41,374.38" fill="#c4e4f8"/>
<polygon points="984.4,360.68 987.7,359.07 987.7,362.06 984.4,363.66" fill="#c4e4f8"/>
<polygon points="934.9,364.05 938.2,365.65 938.2,368.64 934.9,367.03" fill="#c4e4f8"/>
<polygon points="955.36,374.01 960.19,376.37 960.19,379.35 955.36,377" fill="#c4e4f8"/>
<polygon points="962.41,376.37 967.24,374.01 967.24,377 962.41,379.35" fill="#c4e4f8"/>
<polygon points="984.4,365.65 987.7,364.05 987.7,367.03 984.4,368.64" fill="#c4e4f8"/>
<polygon points="934.9,369.02 938.2,370.63 938.2,373.61 934.9,372" fill="#c4e4f8"/>
<polygon points="955.36,378.99 960.19,381.34 960.19,384.32 955.36,381.97" fill="#c4e4f8"/>
<polygon points="962.41,381.34 967.24,378.99 967.24,381.97 962.41,384.32" fill="#c4e4f8"/>
<polygon points="984.4,370.63 987.7,369.02 987.7,372 984.4,373.61" fill="#c4e4f8"/>
<polygon points="934.9,373.99 938.2,375.6 938.2,378.58 934.9,376.97" fill="#c4e4f8"/>
<polygon points="955.36,383.96 960.19,386.31 960.19,389.3 955.36,386.94" fill="#c4e4f8"/>
<polygon points="962.41,386.31 967.24,383.96 967.24,386.94 962.41,389.3" fill="#c4e4f8"/>
<polygon points="984.4,375.6 987.7,373.99 987.7,376.97 984.4,378.58" fill="#c4e4f8"/>
<polygon points="934.9,378.96 938.2,380.57 938.2,383.55 934.9,381.95" fill="#c4e4f8"/>
<polygon points="955.36,388.93 960.19,391.28 960.19,394.27 955.36,391.92" fill="#c4e4f8"/>
<polygon points="962.41,391.28 967.24,388.93 967.24,391.92 962.41,394.27" fill="#c4e4f8"/>
<polygon points="984.4,380.57 987.7,378.96 987.7,381.95 984.4,383.55" fill="#c4e4f8"/>
<polygon points="933.8,382.1 939.3,384.78 939.3,389.98 933.8,387.3" fill="#f2a75c"/>
<polygon points="953.88,391.88 961.3,395.5 961.3,400.7 953.88,397.08" fill="#f4ac62"/>
<polygon points="961.3,395.5 968.72,391.88 968.72,397.08 961.3,400.7" fill="#e0944a"/>
<polygon points="983.3,384.78 988.8,382.1 988.8,387.3 983.3,389.98" fill="#e0944a"/>
<polygon points="933.8,327.1 961.3,313.7 988.8,327.1 961.3,340.5" fill="#5fa3de"/>
<polygon points="954.42,315.31 961.3,318.67 961.3,320.47 954.42,317.12" fill="#e59a4c"/>
<polygon points="961.3,318.67 968.17,315.31 968.17,317.12 961.3,320.47" fill="#cc8238"/>
<polygon points="954.42,315.31 961.3,311.96 968.17,315.31 961.3,318.67" fill="#f6b066"/>
<polygon points="957.52,314.31 961.3,312.47 965.08,314.31 961.3,316.16" fill="#f0a252"/>
<polygon points="933.46,325.4 940.33,328.75 940.33,330.55 933.46,327.2" fill="#e59a4c"/>
<polygon points="940.33,328.75 947.21,325.4 947.21,327.2 940.33,330.55" fill="#cc8238"/>
<polygon points="933.46,325.4 940.33,322.05 947.21,325.4 940.33,328.75" fill="#f6b066"/>
<polygon points="936.55,324.4 940.33,322.56 944.11,324.4 940.33,326.24" fill="#f0a252"/>
<polygon points="975.39,325.4 982.27,328.75 982.27,330.55 975.39,327.2" fill="#e59a4c"/>
<polygon points="982.27,328.75 989.14,325.4 989.14,327.2 982.27,330.55" fill="#cc8238"/>
<polygon points="975.39,325.4 982.27,322.05 989.14,325.4 982.27,328.75" fill="#f6b066"/>
<polygon points="978.49,324.4 982.27,322.56 986.05,324.4 982.27,326.24" fill="#f0a252"/>
<polygon points="954.42,336.09 961.3,339.44 961.3,341.24 954.42,337.89" fill="#e59a4c"/>
<polygon points="961.3,339.44 968.17,336.09 968.17,337.89 961.3,341.24" fill="#cc8238"/>
<polygon points="954.42,336.09 961.3,332.74 968.17,336.09 961.3,339.44" fill="#f6b066"/>
<polygon points="957.52,335.09 961.3,333.24 965.08,335.09 961.3,336.93" fill="#f0a252"/>
</g>
<!-- towers:end -->
<!-- desk:start -->
<g id="desk">
<polygon points="307.77,681.88 325.87,687.39 325.87,692.9 307.77,692.11" fill="#e09230"/>
<polygon points="278.66,662.21 288.1,667.4 288.1,697.62 278.66,692.42" fill="#f8b44a"/>
<polyline points="278.66,672.44 288.1,677.63" fill="none" stroke="#f3a030" stroke-width="0.5"/>
<polyline points="278.66,682.67 288.1,687.86" fill="none" stroke="#f3a030" stroke-width="0.5"/>
<polygon points="336.88,693.21 369.14,675.59 369.14,707.37 336.88,725.47" fill="#c57a2b"/>
<polygon points="333.42,692.11 336.88,693.21 336.88,725.47 333.42,723.58" fill="#f5a130"/>
<polygon points="278.66,659.06 311.7,638.61 369.14,672.44 334.52,690.85" fill="#f7a52f"/>
<polygon points="278.66,659.06 334.52,690.85 334.52,694 278.66,662.21" fill="#fbc374"/>
<polygon points="334.52,690.85 369.14,672.44 369.14,675.74 334.52,694" fill="#f8b658"/>
<polygon points="293.61,648.83 305.88,637.82 318.78,645.69 318.15,651.51 310.13,655.13 293.61,652.45" fill="#a9b1ac"/>
<polygon points="295.97,647.26 305.88,638.61 317.21,645.69 307.77,651.98" fill="#c7cdc8"/>
<polygon points="302.26,641.75 306.98,638.92 315.64,644.11 311.23,646.95" fill="#6f9b52"/>
<polygon points="295.18,648.36 300.69,644.11 307.77,648.83 302.26,652.77" fill="#e4e8e4"/>
<polygon points="325.08,657.17 336.09,652.45 349,660.64 339.24,665.04" fill="#a7a7a7"/>
<polygon points="325.08,657.17 339.24,665.04 339.24,666.3 325.08,658.43" fill="#7c7c7c"/>
<polygon points="332.16,647.26 337.98,649.94 338.61,658.28 333.26,657.17" fill="#5b5b5b"/>
<polygon points="321.3,620.04 352.15,635.14 352.15,656.23 321.3,640.81" fill="#8c8c8c"/>
<polygon points="322.88,622.55 350.57,636.09 350.57,653.71 322.88,639.86" fill="#e6e6e6"/>
<polygon points="308.24,664.73 315.64,659.85 334.84,670.87 326.97,676.06" fill="#bcc3e4"/>
<polygon points="310.13,664.89 315.64,661.27 332.63,671.02 326.65,674.8" fill="#d5daf0"/>
<polygon points="336.09,675.59 347.9,682.67 359.7,676.69 359.7,679.84 347.9,686.13 336.09,678.73" fill="#e8617b"/>
<polygon points="336.57,674.48 347.9,681.09 359.07,675.59 359.07,677.16 347.9,682.98 336.57,676.37" fill="#f4f0ee"/>
<polygon points="339.24,669.29 347.9,674.8 347.9,679.84 339.24,674.33" fill="#f1a765"/>
<polygon points="347.9,674.8 357.34,669.61 357.34,674.33 347.9,679.84" fill="#dd8b4b"/>
<polygon points="339.24,669.29 348.68,664.57 357.34,669.61 347.9,674.8" fill="#c6773f"/>
<polygon points="316.9,698.4 324.76,697.15 323.19,709.42 321.93,719.18 318,718.08 319.1,707.85" fill="#f1b391"/>
<polygon points="312.17,714.46 316.42,713.83 317.21,719.18 313.28,720.75" fill="#1c2c5a"/>
<polygon points="318,717.29 322.25,718.08 326.97,724.37 325.39,726.42 319.1,723.58" fill="#1c2c5a"/>
<polygon points="307.77,697.62 322.72,692.42 324.76,703.13 310.13,712.57" fill="#8c3b4a"/>
<polygon points="307.45,688.96 322.72,691.8 324.76,698.4 309.34,702.34" fill="#1c2a48"/>
<polygon points="295.18,664.57 307.45,661.9 312.49,668.51 315.64,677.95 321.93,680.31 317.21,686.6 312.49,684.24 311.23,693.68 301.47,688.96" fill="#2a3c60"/>
<polygon points="311.23,676.06 324.29,676.69 325.39,679.84 314.06,684.24" fill="#2a3c60"/>
<polygon points="324.29,676.69 332.63,676.06 333.26,678.26 325.39,679.84" fill="#f1b391"/>
<polygon points="311.7,668.51 317.21,670.39 318.78,671.97 312.17,670.39" fill="#f1b391"/>
<polygon points="303.83,660.64 309.34,659.85 309.66,664.1 304.94,665.04" fill="#e8a888"/>
<ellipse cx="303.52" cy="656.23" rx="7.87" ry="7.4" fill="#2b1419"/>
<polygon points="306.98,659.06 311.23,658.28 310.6,663 307.77,663" fill="#2b1419"/>
<path d="M286.21,670.87 L290.14,667.72 Q303.83,674.01 306.51,681.09 L309.66,710.99 L305.88,714.46 L289.2,704.38 Z" fill="#8c3b4a"/>
<polygon points="306.51,681.09 309.66,710.99 305.88,714.46 304.31,684.24" fill="#b0636d"/>
<polygon points="309.34,696.04 322.72,691.8 324.29,694.47 310.6,699.19" fill="#a85560"/>
<polygon points="309.34,696.04 310.6,699.19 311.23,709.42 309.34,710.99" fill="#7a2f3e"/>
<polygon points="296.75,709.11 300.21,710.68 300.21,719.65 296.75,718.86" fill="#5f6f6c"/>
<polyline points="298.33,718.08 284.95,722.01" fill="none" stroke="#5f6f6c" stroke-width="2.5" stroke-linecap="round"/>
<polyline points="298.33,718.08 289.67,730.67" fill="none" stroke="#5f6f6c" stroke-width="2.5" stroke-linecap="round"/>
<polyline points="298.64,718.08 307.77,729.56" fill="none" stroke="#5f6f6c" stroke-width="2.5" stroke-linecap="round"/>
<polyline points="299.11,718.08 314.85,720.75" fill="none" stroke="#5f6f6c" stroke-width="2.5" stroke-linecap="round"/>
<ellipse cx="284.48" cy="722.32" rx="1.57" ry="1.42" fill="#4a5856"/>
<ellipse cx="289.67" cy="731.14" rx="1.57" ry="1.42" fill="#4a5856"/>
<ellipse cx="307.77" cy="730.19" rx="1.57" ry="1.42" fill="#4a5856"/>
<ellipse cx="315.32" cy="721.07" rx="1.57" ry="1.42" fill="#4a5856"/>
</g>
<!-- desk:end -->
<!-- live:start -->
<defs><linearGradient id="rg" x1="0" y1="0" x2="0" y2="1"><stop offset="0" stop-color="#f6f6f6"/><stop offset="0.25" stop-color="#d0d6d8"/><stop offset="0.55" stop-color="#6c8089"/><stop offset="0.85" stop-color="#1b3644"/><stop offset="1" stop-color="#0c2430"/></linearGradient><linearGradient id="wg" x1="0" y1="0" x2="0" y2="1" gradientUnits="userSpaceOnUse" gradientTransform="translate(0,600) scale(1,20)"><stop offset="0" stop-color="#3f9fcc"/><stop offset="0.5" stop-color="#3f9fcc"/><stop offset="0.85" stop-color="#3f9fcc" stop-opacity="0"/></linearGradient></defs>
<g id="live">
<path d="M740.46,668.18 Q743.18,666.58 746.16,668.33 L799.79,699.91 Q802.77,701.66 800.05,703.23 L751.19,731.48 Q748.47,733.05 745.49,731.33 L691.86,700.39 Q688.88,698.67 691.60,697.07 Z" fill="#a9a9a9"/>
<path d="M740.46,666.77 Q743.18,665.17 746.16,666.92 L799.79,698.50 Q802.77,700.25 800.05,701.82 L751.19,730.07 Q748.47,731.64 745.49,729.92 L691.86,698.98 Q688.88,697.26 691.60,695.66 Z" fill="#cccccc"/>
<path d="M718.51,614.52 A3.9,3.9 0 1 1 723.19,614.52" fill="none" stroke="url(#wg)" stroke-width="1.05"/>
<path d="M717.13,616.36 A6.2,6.2 0 1 1 724.57,616.36" fill="none" stroke="url(#wg)" stroke-width="1.05"/>
<path d="M715.75,618.2 A8.5,8.5 0 1 1 725.95,618.2" fill="none" stroke="url(#wg)" stroke-width="1.05"/>
<path d="M714.37,620.04 A10.8,10.8 0 1 1 727.33,620.04" fill="none" stroke="url(#wg)" stroke-width="1.05"/>
<rect x="719.65" y="613" width="1.4" height="7.4" fill="#c4c4c4"/>
<circle cx="720.35" cy="613" r="2.2" fill="#bdbdbd"/>
<rect x="715.85" y="630.79" width="49.37" height="3.53" rx="1.76" fill="#e9e9e9"/>
<rect x="710.21" y="619.68" width="59.41" height="12.69" rx="4.94" fill="url(#rg)"/>
<rect x="716.55" y="622.6" width="1.1" height="7" rx="0.5" fill="#dcdcdc" opacity="0.85"/>
<rect x="719.45" y="622.6" width="1.1" height="7" rx="0.5" fill="#dcdcdc" opacity="0.85"/>
<rect x="722.25" y="622.6" width="1.1" height="7" rx="0.5" fill="#dcdcdc" opacity="0.85"/>
<ellipse cx="754.64" cy="626.38" rx="1.41" ry="1.41" fill="#8bc34a"/>
<ellipse cx="759.58" cy="626.38" rx="1.41" ry="1.41" fill="#8bc34a"/>
<ellipse cx="764.34" cy="626.38" rx="1.59" ry="1.59" fill="#f5a623"/>
<path d="M722.35,686.76 L726.42,687.83 L730.49,685.69 L730.27,694.26 L729.42,703.9 L727.06,703.9 L726.85,695.33 L726.2,704.97 L723.85,705.18 L723.21,695.33 Z" fill="#f9cfa6"/>
<path d="M722.78,704.97 Q724.81,706.25 729.85,707.32 Q729.63,709.04 726.95,708.82 Q723.42,707.97 722.56,706.25 Z" fill="#102f66"/>
<path d="M726.95,703.04 Q729.1,704.32 733.92,705.39 Q733.7,707.11 731.24,706.89 Q727.7,705.82 726.85,704.32 Z" fill="#102f66"/>
<path d="M721.06,665.13 L730.7,664.48 Q731.99,674.98 731.77,684.83 Q729.1,687.83 726.42,687.83 Q723.21,687.3 721.6,686.12 Q718.71,674.98 721.06,665.13 Z" fill="#12386c"/>
<path d="M718.92,653.78 Q721.06,651.42 725.35,651.2 Q729.63,650.99 731.56,652.7 L733.06,658.06 L740.56,654.85 L741.63,656.99 L733.7,662.13 Q731.99,662.13 731.13,660.84 L730.7,665.34 L721.06,665.98 L720.85,664.27 Q717.64,666.41 716.99,664.81 Q716.99,657.84 718.92,653.78 Z" fill="#1aa0b4"/>
<path d="M728.03,651.42 Q730.7,651.42 731.56,652.7 L733.06,658.06 L740.56,654.85 L741.63,656.99 L733.7,662.13 Q731.99,662.13 731.13,660.84 L730.7,665.34 L728.03,665.56 Z" fill="#158c9f"/>
<path d="M740.56,654.63 Q742.48,652.7 744.84,653.35 L746.77,654.85 Q746.23,656.24 744.09,656.99 L741.63,657.2 Z" fill="#f9cfa6"/>
<path d="M725.13,648.74 L728.78,648.74 L729.2,651.95 Q727.28,653.35 725.35,651.95 Z" fill="#f2bf98"/>
<path d="M725.13,641.99 Q729.1,641.24 729.85,644.46 Q730.06,648.21 727.7,650.56 Q725.35,650.35 724.49,647.14 Z" fill="#fbdcc0"/>
<path d="M721.71,650.99 Q719.99,646.06 721.06,641.78 Q722.67,638.35 725.88,638.57 Q729.1,639 729.85,642.64 Q726.95,642.85 725.35,645.53 Q724.49,648.74 724.92,651.42 Q723.21,651.95 721.71,650.99 Z" fill="#8a3a1a"/>
<ellipse cx="729.63" cy="654.85" rx="1.5" ry="1.82" fill="#111"/>
<path d="M727.28,657.63 Q729.1,656.56 730.7,657.63 L730.7,660.52 Q728.78,661.59 727.28,660.41 Z" fill="#f9cfa6"/>
<path d="M760.9,671.23 L772.26,672.62 L771.61,703.9 L766.9,704.97 L766.47,689.97 L765.62,704.11 L761.76,703.04 Z" fill="#12386c"/>
<path d="M766.47,672.84 L772.26,672.62 L771.61,703.9 L769.04,704.54 Z" fill="#0f2f5c"/>
<path d="M761.55,702.4 L765.83,703.25 Q766.04,704.97 763.69,706.25 Q759.62,706.89 758.33,705.39 Q758.55,703.9 761.55,702.4 Z" fill="#3c93dc"/>
<path d="M766.69,704.32 L771.83,703.47 Q772.47,705.18 769.26,707.54 Q764.97,709.25 762.83,707.54 Q763.37,705.61 766.69,704.32 Z" fill="#3c93dc"/>
<path d="M759.83,653.03 Q762.83,650.35 769.26,649.92 Q772.68,650.35 773.33,653.03 L772.47,673.05 Q768.19,674.77 764.97,673.37 L760.69,671.98 Z" fill="#5c6874"/>
<path d="M767.65,650.35 Q772.68,650.35 773.33,653.03 L772.47,673.05 Q770.33,673.91 768.83,673.69 Z" fill="#4c5762"/>
<ellipse cx="764.97" cy="638.57" rx="4.07" ry="2.57" fill="#121212"/>
<path d="M762.83,639.85 L767.65,639.85 L767.33,643.92 L763.37,643.92 Z" fill="#e9b692"/>
<path d="M758.33,643.71 L769.04,640.71 Q771.93,640.71 773.11,643.39 L773.11,648.85 L768.19,651.42 L758.55,650.56 Z" fill="#2e3a54"/>
<path d="M768.19,646.06 L773.11,643.39 L773.11,648.85 L768.19,651.42 Z" fill="#3a4662"/>
<path d="M769.69,644.99 L772.04,643.92 L772.04,645.64 L769.69,646.71 Z" fill="#b8323a"/>
<path d="M751.05,650.35 L758.55,646.06 L759.83,656.24 L756.19,659.56 Q752.12,658.92 751.27,656.24 Z" fill="#27324a"/>
<polyline points="751.69,649.92 755.33,647.35 759.08,646.06" fill="none" stroke="#1a2236" stroke-width="1"/>
<ellipse cx="753.41" cy="654.85" rx="1.5" ry="2.03" fill="#35c4dc"/>
<path d="M763.37,646.28 Q765.51,644.99 766.9,646.6 L766.47,650.56 L763.69,650.88 Z" fill="#e9b692"/>
</g>
<!-- live:end -->
<!-- illus -->
<!-- lines -->
<path class="gl" d="M137,399.2 H199.4 V367.4 H360"/>
<path class="gl" d="M434,517 V560"/>
<path class="gl" d="M365,572 H347.5 V622.8"/>
<path class="gl" d="M638.3,517 V560"/>
<path class="gl" d="M700,572 H742.3 V613.8"/>
<path class="bl" d="M417,170 V220.4 H435.3 V306"/>
<path class="bl" d="M432.1,170 V212.8 H531.5 V258"/>
<path class="bl" d="M678.8,180.3 V219.3 H625.2 V306"/>
<path class="bl" d="M137,387.6 H211.2 V440.7 H340"/>
<path class="bl" d="M726,419.2 H778.5 V381.5 H901"/>

<!-- internet clouds -->
<use href="#inet" x="236.1" y="344.2"/>
<text x="280.9" y="380.9" text-anchor="middle" style="font-size:16.2px;fill:#fff;" textLength="56.6" lengthAdjust="spacingAndGlyphs">Internet</text>
<use href="#inet" x="361.3" y="537.4"/>
<text x="406.1" y="574.1" text-anchor="middle" style="font-size:16.2px;fill:#fff;" textLength="56.6" lengthAdjust="spacingAndGlyphs">Internet</text>
<use href="#inet" x="616.6" y="537.4"/>
<text x="661.4" y="574.1" text-anchor="middle" style="font-size:16.2px;fill:#fff;" textLength="56.6" lengthAdjust="spacingAndGlyphs">Internet</text>

<!-- routers -->
<use href="#router" x="425.6" y="156.4"/>
<use href="#router" x="531" y="267"/>
<use href="#router" x="435.6" y="314.4"/>
<use href="#router" x="626.3" y="314.4"/>

<!-- VPE -->
<use href="#vpe" x="362" y="351"/>
<use href="#vpe" x="339.5" y="423"/>
<use href="#vpe" x="416.4" y="460"/>
<use href="#vpe" x="622.5" y="460"/>
<use href="#vpe" x="694" y="397"/>
<!-- CPE -->
<use href="#cpe" x="102.1" y="375.5"/>
<text x="118.6" y="388.4" text-anchor="middle" style="font-size:11.3px;font-weight:bold;fill:#fff;stroke:#fff;stroke-width:0.55px;stroke-linejoin:round" textLength="22.4" lengthAdjust="spacingAndGlyphs">CPE</text>
<use href="#cpe" x="900.4" y="365.8"/>
<text x="916.9" y="378.7" text-anchor="middle" style="font-size:11.3px;font-weight:bold;fill:#fff;stroke:#fff;stroke-width:0.55px;stroke-linejoin:round" textLength="22.4" lengthAdjust="spacingAndGlyphs">CPE</text>
<use href="#cpe" x="352.7" y="626.7"/>
<text x="369.2" y="639.6" text-anchor="middle" style="font-size:11.3px;font-weight:bold;fill:#fff;stroke:#fff;stroke-width:0.55px;stroke-linejoin:round" textLength="22.4" lengthAdjust="spacingAndGlyphs">CPE</text>







<!-- labels -->
<g text-anchor="middle" class="t">
<text class="sm" x="436.8" y="352" textLength="42.2" lengthAdjust="spacingAndGlyphs">POP</text>
<text class="sm" x="532.3" y="304.5" textLength="42.2" lengthAdjust="spacingAndGlyphs">POP</text>
<text class="sm" x="627.8" y="352" textLength="42.2" lengthAdjust="spacingAndGlyphs">POP</text>
<text class="sm" x="377.6" y="403" textLength="38.4" lengthAdjust="spacingAndGlyphs">VPE</text>
<text class="sm" x="355.2" y="475.4" textLength="38.4" lengthAdjust="spacingAndGlyphs">VPE</text>
<text class="sm" x="432.3" y="512.7" textLength="38.4" lengthAdjust="spacingAndGlyphs">VPE</text>
<text class="sm" x="637.9" y="512.7" textLength="38.4" lengthAdjust="spacingAndGlyphs">VPE</text>
<text class="sm" x="711" y="449.6" textLength="38.4" lengthAdjust="spacingAndGlyphs">VPE</text>
<text x="531.2" y="383.6" style="font-size:30.4px" textLength="53.2" lengthAdjust="spacingAndGlyphs">CXP</text>
<text x="531.1" y="418.7" style="font-size:28.2px;stroke:#111;stroke-width:0.3px" textLength="145.4" lengthAdjust="spacing">云交换平台</text>
<text class="lb" x="667.2" y="173.2" textLength="128.6" lengthAdjust="spacing">源站服务器</text>
<text class="lb" x="50" y="448.6" textLength="66.4" lengthAdjust="spacing">分支A</text>
<text class="lb" x="983.5" y="448.6" textLength="138.4" lengthAdjust="spacing">私有云/总部</text>
<text class="lb" x="329.2" y="767.4" textLength="66.6" lengthAdjust="spacing">分支B</text>
<text class="lb" x="747" y="767.4" textLength="104.4" lengthAdjust="spacing">移动直播</text>
</g>
</svg>
</body>
</html>
